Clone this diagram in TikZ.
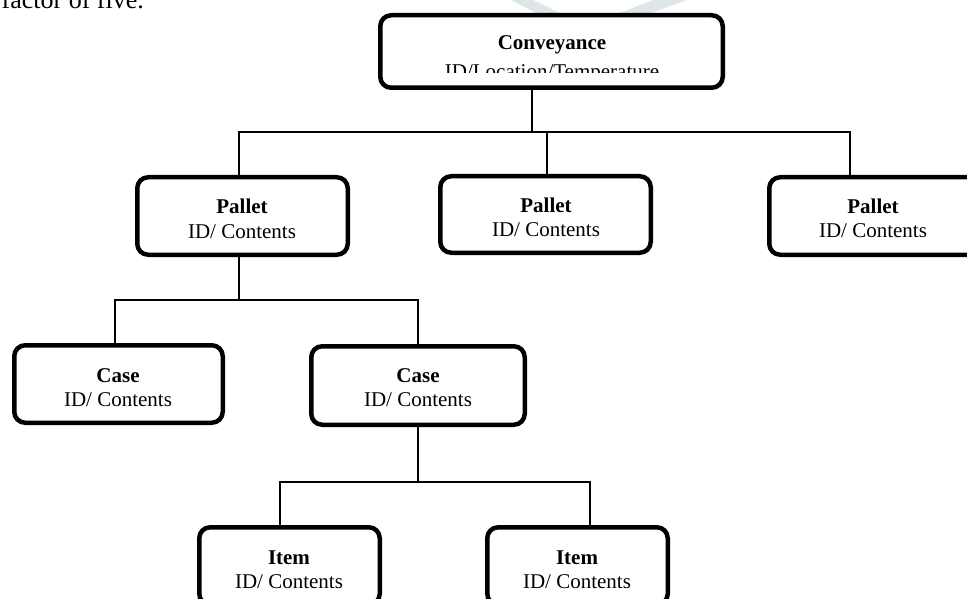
\documentclass[tikz,border=0pt]{standalone}
\usepackage{fontspec}
\setmainfont{Liberation Serif}
\definecolor{wmark}{RGB}{222,230,232}
\begin{document}
\begin{tikzpicture}[x=1pt,y=-1pt,
  unit/.style={draw=black,line width=4.5pt,rounded corners=11pt,fill=white,
    inner sep=0pt,minimum width=#1},
  title/.style={anchor=base,inner sep=0pt,font=\fontsize{21}{24}\selectfont\bfseries},
  sub/.style={anchor=base,inner sep=0pt,font=\fontsize{21}{24}\selectfont},
  link/.style={draw=black,line width=1.6pt}]
\useasboundingbox (0,0) rectangle (967,599);

% running text above the chart
\node[anchor=base west,inner sep=0pt,font=\fontsize{26}{30}\selectfont] (para) at (1.5,9) {factor of five.};

% faint background mark
\fill[wmark] (507,-2) -- (529,-2) -- (566,16) -- (542,16) -- cycle;
\fill[wmark] (658,-2) -- (692,-2) -- (643,16) -- (612,16) -- cycle;

% bus points of the tree
\coordinate (b0) at (532,132);
\coordinate (b1) at (239,132);
\coordinate (b2) at (547,132);
\coordinate (b3) at (850,132);
\coordinate (d0) at (239,300);
\coordinate (d1) at (115,300);
\coordinate (d2) at (418,300);
\coordinate (e0) at (418,482);
\coordinate (e1) at (280,482);
\coordinate (e2) at (590,482);

% boxes
\node[unit=342.5pt,minimum height=72.5pt] (conv) at (551.5,51.5) {};
\node[unit=210.5pt,minimum height=77.5pt] (p1) at (242.5,216) {};
\node[unit=210.5pt,minimum height=76.5pt] (p2) at (545.5,214.5) {};
\node[unit=210.5pt,minimum height=77.5pt] (p3) at (874.5,216) {};
\node[unit=208.5pt,minimum height=77.5pt] (c1) at (118.5,384) {};
\node[unit=213.5pt,minimum height=78.5pt] (c2) at (418,385.5) {};
\node[unit=180.5pt,minimum height=77.5pt] (i1) at (289.5,566) {};
\node[unit=180.5pt,minimum height=77.5pt] (i2) at (577.5,566) {};

% box texts
\begin{scope}
  \clip (381,16) rectangle (722,72.7);
  \node[title] (convt) at (552,50) {Conveyance};
  \node[sub] (convs) at (552,78.3) {ID/Location/Temperature};
\end{scope}
\node[title] (p1t) at (242,214) {Pallet};
\node[sub]   (p1s) at (242,238) {ID/ Contents};
\node[title] (p2t) at (546,212) {Pallet};
\node[sub]   (p2s) at (546,236) {ID/ Contents};
\node[title] (p3t) at (873,213) {Pallet};
\node[sub]   (p3s) at (873,237) {ID/ Contents};
\node[title] (c1t) at (118,382.7) {Case};
\node[sub]   (c1s) at (118,406.7) {ID/ Contents};
\node[title] (c2t) at (418,382.7) {Case};
\node[sub]   (c2s) at (418,406.7) {ID/ Contents};
\node[title] (i1t) at (289,564) {Item};
\node[sub]   (i1s) at (289,588) {ID/ Contents};
\node[title] (i2t) at (577,564) {Item};
\node[sub]   (i2s) at (577,588) {ID/ Contents};

% connectors
\draw[link] (b0 |- conv.south) -- (b0);
\draw[link] (b1 |- p1.north) -- (b1) -- (b3) -- (b3 |- p3.north);
\draw[link] (b2 |- p2.north) -- (b2);
\draw[link] (d0 |- p1.south) -- (d0);
\draw[link] (d1 |- c1.north) -- (d1) -- (d2) -- (d2 |- c2.north);
\draw[link] (e0 |- c2.south) -- (e0);
\draw[link] (e1 |- i1.north) -- (e1) -- (e2) -- (e2 |- i2.north);
\end{tikzpicture}
\end{document}
